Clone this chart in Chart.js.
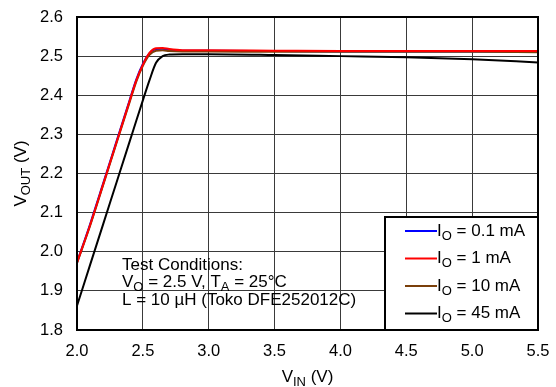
<!DOCTYPE html>
<html>
<head>
<meta charset="utf-8">
<script src="https://cdn.jsdelivr.net/npm/chart.js@4/dist/chart.umd.min.js"></script>
<style>
  html, body { margin: 0; padding: 0; background: #fff; }
  #wrap { width: 556px; height: 387px; }
</style>
</head>
<body>
<div id="wrap"><canvas id="chart" width="556" height="387"></canvas></div>
<script>
// input voltage samples (V)
const vin = [2.0, 2.1, 2.2, 2.3, 2.4, 2.45, 2.5, 2.55, 2.6, 2.65, 2.7, 2.8, 3.0, 3.5, 4.0, 4.5, 5.0, 5.5];

// output voltage per load current (V)
const vout01 = [1.973, 2.071, 2.176, 2.282, 2.388, 2.440, 2.480, 2.507, 2.518, 2.519, 2.516, 2.514, 2.514, 2.513, 2.512, 2.512, 2.512, 2.512];
const vout1 = [1.972, 2.069, 2.174, 2.280, 2.386, 2.438, 2.478, 2.508, 2.520, 2.521, 2.518, 2.515, 2.515, 2.514, 2.513, 2.513, 2.513, 2.513];
const vout10 = [1.971, 2.067, 2.172, 2.278, 2.383, 2.435, 2.475, 2.503, 2.514, 2.515, 2.513, 2.512, 2.512, 2.511, 2.511, 2.511, 2.511, 2.510];
const vout45 = [1.862, 1.967, 2.072, 2.177, 2.282, 2.335, 2.387, 2.438, 2.483, 2.500, 2.504, 2.505, 2.505, 2.503, 2.500, 2.497, 2.492, 2.484];

const legendNames = ["0.1 mA", "1 mA", "10 mA", "45 mA"];
const colors = ["#0000ff", "#ff0000", "#7a3f0a", "#000000"];

const xTicks = [2.0, 2.5, 3.0, 3.5, 4.0, 4.5, 5.0, 5.5];
const yTicks = [1.8, 1.9, 2.0, 2.1, 2.2, 2.3, 2.4, 2.5, 2.6];

const FONT = "Liberation Sans, Arial, sans-serif";

function pts(ys) {
  return ys.map((y, i) => ({ x: vin[i], y: y }));
}

// draws "main" + subscript + rest, starting at x, returns end x
function subText(ctx, x, y, main, sub, rest, size) {
  ctx.font = size + "px " + FONT;
  ctx.fillText(main, x, y);
  x += ctx.measureText(main).width;
  ctx.font = Math.round(size * 0.75) + "px " + FONT;
  ctx.fillText(sub, x, y + 5);
  x += ctx.measureText(sub).width;
  ctx.font = size + "px " + FONT;
  ctx.fillText(rest, x, y);
  return x + ctx.measureText(rest).width;
}

function subWidth(ctx, main, sub, rest, size) {
  ctx.font = size + "px " + FONT;
  let w = ctx.measureText(main).width + ctx.measureText(rest).width;
  ctx.font = Math.round(size * 0.75) + "px " + FONT;
  return w + ctx.measureText(sub).width;
}

function noEdgePad(s) {
  s.paddingTop = 0;
  s.paddingBottom = 0;
  s.paddingLeft = 0;
  s.paddingRight = 0;
}

const extras = {
  id: "extras",
  afterDatasetsDraw(chart) {
    const ctx = chart.ctx;
    const a = chart.chartArea;
    ctx.save();

    // legend box
    const lx = 385, ly = 217, lw = a.right - lx, lh = a.bottom - ly;
    ctx.fillStyle = "#fff";
    ctx.fillRect(lx, ly, lw, lh);
    ctx.strokeStyle = "#000";
    ctx.lineWidth = 2;
    ctx.strokeRect(lx, ly, lw, lh);
    ctx.textBaseline = "middle";
    legendNames.forEach((n, i) => {
      const yy = 231 + i * 27.5;
      ctx.strokeStyle = colors[i];
      ctx.lineWidth = 2;
      ctx.beginPath();
      ctx.moveTo(405, yy);
      ctx.lineTo(437, yy);
      ctx.stroke();
      ctx.fillStyle = "#000";
      subText(ctx, 437, yy, "I", "O", " = " + n, 17);
    });

    // test conditions
    ctx.fillStyle = "#000";
    ctx.font = "17px " + FONT;
    ctx.fillText("Test Conditions:", 122, 265);
    let x = subText(ctx, 122, 282.5, "V", "O", " = 2.5 V, T", 17);
    subText(ctx, x, 282.5, "", "A", " = 25\u00B0C", 17);
    ctx.font = "17px " + FONT;
    ctx.fillText("L = 10 \u00B5H (Toko DFE252012C)", 122, 300);

    // plot frame
    ctx.strokeStyle = "#000";
    ctx.lineWidth = 2;
    ctx.strokeRect(a.left, a.top, a.right - a.left, a.bottom - a.top);

    // axis titles
    const xw = subWidth(ctx, "V", "IN", " (V)", 17);
    subText(ctx, (a.left + a.right) / 2 - xw / 2, 377, "V", "IN", " (V)", 17);

    ctx.translate(21, (a.top + a.bottom) / 2);
    ctx.rotate(-Math.PI / 2);
    const yw = subWidth(ctx, "V", "OUT", " (V)", 17);
    subText(ctx, -yw / 2, 0, "V", "OUT", " (V)", 17);
    ctx.restore();
  }
};

// first dataset is drawn on top
new Chart(document.getElementById("chart"), {
  type: "scatter",
  data: {
    datasets: [
      { label: legendNames[1], data: pts(vout1), borderColor: colors[1] },
      { label: legendNames[2], data: pts(vout10), borderColor: colors[2] },
      { label: legendNames[0], data: pts(vout01), borderColor: colors[0] },
      { label: legendNames[3], data: pts(vout45), borderColor: colors[3] }
    ].map(d => Object.assign(d, {
      showLine: true,
      pointRadius: 0,
      borderWidth: 2,
      cubicInterpolationMode: "monotone",
      fill: false
    }))
  },
  options: {
    responsive: false,
    animation: false,
    layout: { padding: { top: 17, right: 18, left: 0, bottom: 0 } },
    plugins: { legend: { display: false }, tooltip: { enabled: false } },
    scales: {
      x: {
        type: "linear",
        min: 2.0,
        max: 5.5,
        afterBuildTicks: s => { s.ticks = xTicks.map(v => ({ value: v })); },
        afterFit: s => { s.height = 57; noEdgePad(s); },
        grid: { color: "#3a3a3a", lineWidth: 1, drawTicks: false },
        border: { display: false },
        ticks: {
          padding: 12,
          color: "#000",
          font: { family: FONT, size: 16.5 },
          callback: v => v.toFixed(1)
        }
      },
      y: {
        min: 1.8,
        max: 2.6,
        afterBuildTicks: s => { s.ticks = yTicks.map(v => ({ value: v })); },
        afterFit: s => { s.width = 77; noEdgePad(s); },
        grid: { color: "#3a3a3a", lineWidth: 1, drawTicks: false },
        border: { display: false },
        ticks: {
          padding: 14,
          color: "#000",
          font: { family: FONT, size: 16.5 },
          callback: v => v.toFixed(1)
        }
      }
    }
  },
  plugins: [extras]
});
</script>
</body>
</html>
